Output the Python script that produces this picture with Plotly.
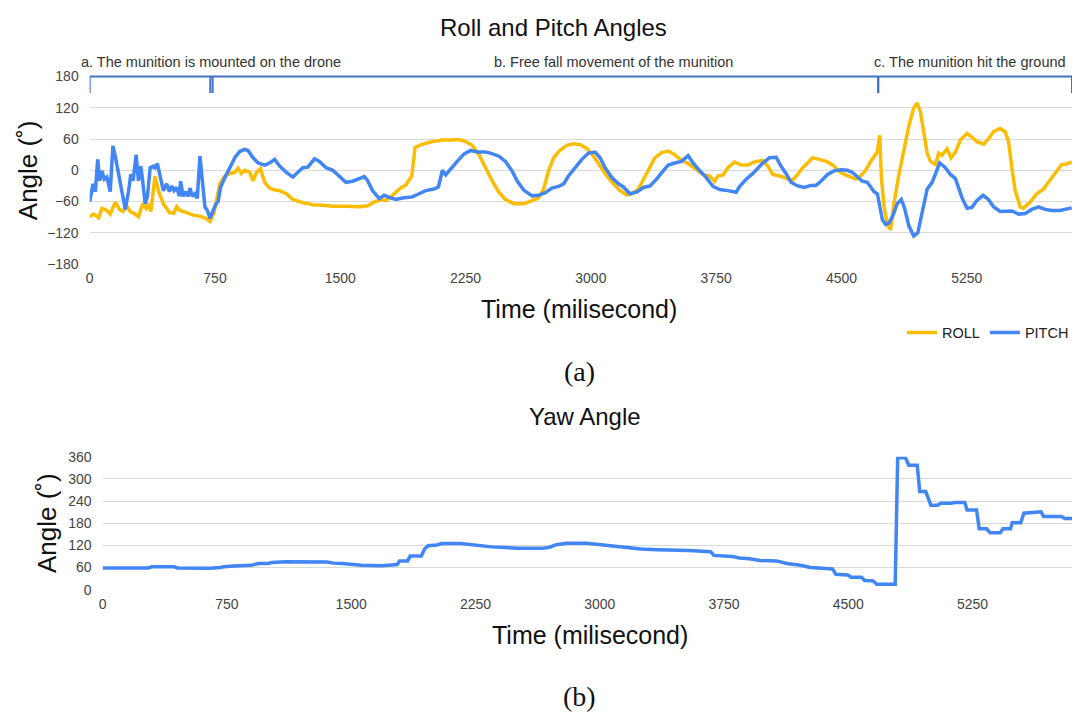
"""
Roll / pitch and yaw angles of the munition during the drop test.
"""

import plotly.graph_objects as go

W, H = 1074, 717

# ---- data (read from the recorded flight) ----
ROLL_T = [0, 24, 54, 73, 103, 123, 153, 179, 199, 222, 242, 262, 292, 318, 338, 352, 366,
          391, 411, 441, 477, 505, 521, 541, 580, 620, 660, 696, 720, 744, 759, 779, 809,
          839, 869, 888, 908, 928, 958, 978, 998, 1022, 1048, 1077, 1107, 1137, 1177, 1216,
          1276, 1336, 1395, 1455, 1534, 1614, 1664, 1703, 1743, 1773, 1813, 1853, 1892, 1928,
          1948, 1992, 2051, 2111, 2170, 2210, 2250, 2290, 2330, 2369, 2409, 2449, 2489, 2538,
          2598, 2648, 2687, 2717, 2747, 2777, 2817, 2856, 2896, 2936, 2976, 3016, 3055, 3095,
          3135, 3175, 3214, 3244, 3284, 3314, 3344, 3383, 3423, 3463, 3502, 3542, 3582, 3632,
          3671, 3711, 3741, 3761, 3791, 3820, 3860, 3900, 3940, 3979, 4029, 4059, 4089, 4129,
          4168, 4208, 4238, 4268, 4298, 4327, 4367, 4417, 4456, 4476, 4516, 4556, 4586, 4615,
          4645, 4675, 4705, 4714, 4729, 4739, 4755, 4775, 4794, 4814, 4844, 4874, 4904, 4933,
          4953, 4973, 4993, 5013, 5033, 5063, 5082, 5102, 5132, 5156, 5182, 5212, 5252, 5281,
          5311, 5351, 5380, 5410, 5450, 5480, 5500, 5520, 5540, 5570, 5589, 5629, 5669, 5709,
          5748, 5788, 5818, 5848, 5878]
ROLL = [-89, -84, -91, -73, -77, -84, -61, -75, -79, -68, -79, -82, -89, -64, -73, -64, -79,
        -11, -39, -64, -81, -82, -70, -77, -81, -86, -88, -92, -98, -82, -58, -26, -11,
        -6, -4, 4, -6, 0, -4, -20, -4, 3, -23, -34, -38, -39, -45, -56,
        -62, -66, -67, -69, -69, -70, -68, -61, -56, -58, -48, -36, -28, -11,
        44, 50, 55, 58, 58, 59, 55, 48, 30, 5, -20, -42, -56, -64,
        -64, -58, -53, -36, -1, 24, 39, 48, 51, 49, 42, 27, 8, -11,
        -26, -39, -47, -45, -36, -17, 2, 24, 34, 37, 30, 19, 13, 2,
        -8, -11, -21, -11, -9, 5, 16, 10, 10, 16, 19, 8, -8, -11,
        -15, -19, -8, 5, 14, 24, 21, 16, 8, 0, -8, -14, -17, -11,
        0, 17, 33, 35, 67, -14, -70, -104, -114, -64, -8, 42, 86, 120,
        129, 112, 74, 33, 17, 11, 33, 29, 41, 24, 35, 58, 71, 64,
        55, 50, 60, 74, 80, 74, 55, 5, -39, -70, -73, -61, -45, -36,
        -20, -1, 11, 12, 16]

PITCH_T = [0, 20, 34, 48, 60, 73, 87, 103, 123, 139, 153, 173, 193, 213, 233, 246, 260, 266,
           278, 292, 306, 318, 332, 346, 362, 382, 392, 405, 421, 441, 461, 477, 491, 505,
           521, 537, 544, 560, 576, 590, 600, 616, 630, 644, 660, 676, 690, 704, 720, 735,
           755, 769, 783, 809, 839, 869, 898, 928, 948, 978, 1008, 1048, 1077, 1107, 1137,
           1177, 1216, 1246, 1276, 1306, 1346, 1375, 1415, 1455, 1495, 1534, 1574, 1604, 1644,
           1664, 1693, 1733, 1763, 1793, 1832, 1872, 1932, 1972, 2011, 2061, 2087, 2101, 2111,
           2131, 2161, 2200, 2240, 2280, 2320, 2369, 2399, 2449, 2489, 2528, 2558, 2598, 2648,
           2687, 2727, 2767, 2807, 2837, 2866, 2906, 2946, 2986, 3025, 3055, 3085, 3125, 3165,
           3195, 3234, 3274, 3314, 3354, 3393, 3433, 3463, 3502, 3542, 3582, 3612, 3652, 3691,
           3731, 3771, 3820, 3870, 3890, 3930, 3970, 4000, 4029, 4069, 4109, 4138, 4168, 4198,
           4238, 4277, 4317, 4347, 4377, 4417, 4456, 4496, 4536, 4566, 4595, 4625, 4655, 4675,
           4695, 4715, 4731, 4745, 4765, 4784, 4804, 4834, 4858, 4878, 4904, 4933, 4957, 4983,
           5013, 5043, 5068, 5088, 5122, 5152, 5182, 5202, 5222, 5252, 5281, 5311, 5347, 5380,
           5410, 5450, 5490, 5520, 5560, 5600, 5639, 5679, 5719, 5758, 5808, 5848, 5878]
PITCH = [-60, -26, -41, 21, -20, -1, -17, -13, -41, 47, 27, -7, -39, -75, -39, -8, -20, -1,
         30, -20, 8, -23, -64, -50, 5, 8, 5, 13, -14, -39, -26, -41, -30, -39,
         -33, -50, -21, -50, -41, -50, -34, -50, -45, -54, 27, -20, -70, -77, -92, -80,
         -65, -60, -33, -14, 5, 24, 36, 40, 38, 24, 14, 10, 14, 21, 8,
         -4, -13, -4, 5, 6, 22, 17, 5, 0, -11, -23, -21, -17, -12,
         -20, -39, -54, -48, -52, -56, -53, -51, -45, -39, -36, -32, -14, 0,
         -9, 3, 17, 31, 38, 35, 35, 33, 27, 17, -1, -20, -38, -49,
         -48, -43, -34, -31, -26, -11, 5, 21, 33, 35, 24, 5, -14, -26,
         -32, -45, -42, -33, -30, -17, -1, 10, 14, 17, 28, 14, -1, -14,
         -31, -37, -39, -42, -31, -17, -6, 5, 14, 24, 25, 8, -6, -23,
         -30, -33, -29, -29, -21, -8, -1, 1, 0, -4, -13, -21, -23, -33,
         -41, -45, -73, -95, -104, -101, -90, -64, -56, -73, -107, -126, -120, -83,
         -36, -23, -1, 14, 5, -8, -16, -36, -53, -73, -71, -58, -48, -56,
         -70, -79, -79, -78, -84, -83, -75, -70, -75, -77, -77, -75, -72]

YAW_T = [0, 276, 296, 431, 452, 566, 617, 648, 711, 731, 793, 835, 897, 938, 1000, 1021, 1063,
         1104, 1353, 1394, 1446, 1477, 1519, 1560, 1684, 1715, 1747, 1778, 1792, 1840, 1856,
         1923, 1943, 1964, 2016, 2047, 2161, 2202, 2264, 2347, 2430, 2513, 2654, 2697, 2738,
         2800, 2922, 2984, 3065, 3147, 3249, 3352, 3474, 3536, 3669, 3689, 3802, 3843, 3904,
         3965, 4067, 4129, 4211, 4272, 4405, 4425, 4497, 4517, 4579, 4599, 4650, 4671, 4783,
         4798, 4845, 4865, 4916, 4931, 4967, 4988, 4998, 5039, 5059, 5121, 5141, 5203, 5217,
         5274, 5290, 5335, 5356, 5417, 5434, 5479, 5489, 5540, 5560, 5611, 5663, 5679, 5786,
         5806, 5863]
YAW = [59, 59, 62, 62, 59, 59, 57, 58, 60, 62, 64, 65, 66, 71, 71, 74, 75,
       76, 75, 72, 71, 69, 68, 66, 65, 66, 68, 68, 78, 78, 91,
       91, 110, 119, 121, 125, 125, 123, 119, 116, 114, 112, 112, 115, 122,
       126, 126, 123, 117, 115, 110, 108, 108, 106, 103, 93, 90, 86, 84,
       79, 78, 71, 66, 60, 56, 42, 40, 34, 34, 25, 24, 15, 15,
       357, 357, 337, 337, 266, 266, 243, 229, 229, 234, 234, 236, 236, 216,
       216, 165, 165, 154, 154, 165, 165, 181, 181, 207, 209, 211, 198, 198,
       193, 193]

ANGLE_TICKS = [-180, -120, -60, 0, 60, 120, 180]
YAW_TICKS = [0, 60, 120, 180, 240, 300, 360]
TIME_TICKS = [0, 750, 1500, 2250, 3000, 3750, 4500, 5250]

# flight phases (ms)
PHASE_START = [0, 736, 4720]
PHASE_END = [722, 4720, 5880]
PHASE_LABELS = [
    "a. The munition is mounted on the drone",
    "b. Free fall movement of the munition",
    "c. The munition hit the ground",
]
PHASE_LABEL_X = [727, 3133, 5858]

ROLL_COLOR = "#FBBC04"
PITCH_COLOR = "#4285F4"
BRACKET_COLOR = "#4472C4"
GRID_COLOR = "#D9D9D9"
FONT = "Liberation Sans, Arial, sans-serif"
SERIF = "Liberation Serif, Times New Roman, serif"


def px_x(p: float) -> float:
    return p / W


def px_y(p: float) -> float:
    return 1 - p / H


def axis_style(**kw) -> dict:
    base = dict(
        showgrid=False,
        zeroline=False,
        showline=False,
        ticks="",
        tickfont=dict(family=FONT, size=14, color="#444444"),
    )
    base.update(kw)
    return base


def text(x, y, s, size=13, xref="paper", **kw) -> dict:
    """Free-standing label, centred on (x, y) unless told otherwise."""
    font = dict(family=kw.pop("family", FONT), size=size, color=kw.pop("color", "#222222"))
    kw.setdefault("xanchor", "center")
    kw.setdefault("yanchor", "middle")
    return dict(x=x, y=y, xref=xref, yref="paper", text=s, showarrow=False, font=font, **kw)


fig = go.Figure()

fig.add_trace(go.Scatter(
    x=ROLL_T, y=ROLL, name="ROLL", mode="lines",
    line=dict(color=ROLL_COLOR, width=3.5), xaxis="x", yaxis="y",
))
fig.add_trace(go.Scatter(
    x=PITCH_T, y=PITCH, name="PITCH", mode="lines",
    line=dict(color=PITCH_COLOR, width=3.5), xaxis="x", yaxis="y",
))
fig.add_trace(go.Scatter(
    x=YAW_T, y=YAW, name="YAW", mode="lines", showlegend=False,
    line=dict(color=PITCH_COLOR, width=3.5), xaxis="x2", yaxis="y2",
))

# phase brackets above the roll/pitch chart
top, tick_bottom = px_y(70), px_y(87)
shapes = [dict(type="line", xref="x", yref="paper", x0=PHASE_START[0], x1=PHASE_END[-1],
               y0=top, y1=top, line=dict(color=BRACKET_COLOR, width=2))]
for edge in PHASE_START + PHASE_END:
    shapes.append(dict(type="line", xref="x", yref="paper", x0=edge, x1=edge,
                       y0=top, y1=tick_bottom, line=dict(color=BRACKET_COLOR, width=2)))

annotations = [
    text(px_x(552), px_y(20), "Roll and Pitch Angles", size=24, color="#111111"),
    text(px_x(583), px_y(418), "Yaw Angle", size=24, color="#111111"),
    text(px_x(24), px_y(166), "Angle (˚)", size=26, textangle=-90, color="#111111"),
    text(px_x(43), px_y(527), "Angle (˚)", size=26, textangle=-90, color="#111111"),
    text(px_x(577), px_y(308), "Time (milisecond)", size=25, color="#111111"),
    text(px_x(588), px_y(641), "Time (milisecond)", size=25, color="#111111"),
    text(px_x(578), px_y(372), "(a)", size=28, family=SERIF, color="#111111"),
    text(px_x(578), px_y(704), "(b)", size=28, family=SERIF, color="#111111"),
]
for i, label in enumerate(PHASE_LABELS):
    anchor = "right" if i == len(PHASE_LABELS) - 1 else "center"
    annotations.append(text(PHASE_LABEL_X[i], px_y(55), label, size=14.5, xref="x",
                            xanchor=anchor, color="#333333"))

fig.update_layout(
    width=W, height=H,
    margin=dict(l=0, r=0, t=0, b=0),
    paper_bgcolor="white",
    plot_bgcolor="white",
    font=dict(family=FONT),
    xaxis=axis_style(domain=[px_x(86), px_x(1072)], range=[0, 5880], tickvals=TIME_TICKS,
                     anchor="y", ticklabelstandoff=4),
    yaxis=axis_style(domain=[px_y(262), px_y(70)], range=[-180, 180], tickvals=ANGLE_TICKS,
                     showgrid=True, gridcolor=GRID_COLOR, anchor="x", ticklabelstandoff=10),
    xaxis2=axis_style(domain=[px_x(99), px_x(1072)], range=[0, 5850], tickvals=TIME_TICKS,
                      anchor="y2", ticklabelstandoff=4),
    yaxis2=axis_style(domain=[px_y(595), px_y(459)], range=[0, 360], tickvals=YAW_TICKS,
                      showgrid=True, gridcolor=GRID_COLOR, anchor="x2", ticklabelstandoff=10),
    legend=dict(
        orientation="h", x=px_x(1074), xanchor="right", y=px_y(332), yanchor="middle",
        font=dict(family=FONT, size=14.5, color="#222222"), bgcolor="rgba(0,0,0,0)",
    ),
    shapes=shapes,
    annotations=annotations,
    showlegend=True,
)

# the page body keeps its default 8px margin otherwise, which pushes the figure off-screen
fig.write_html(
    "out.html",
    config={"displayModeBar": False},
    post_script="document.body.style.margin = '0';",
)
